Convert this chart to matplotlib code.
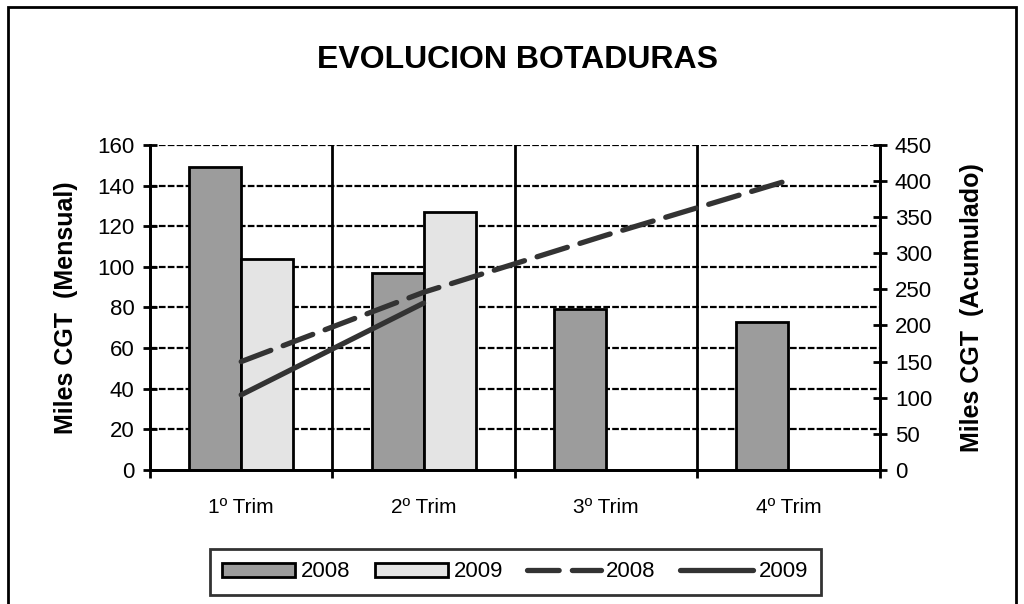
import numpy as np
import matplotlib.pyplot as plt
from matplotlib.patches import Rectangle

plt.rcParams['font.family'] = ['Liberation Sans', 'DejaVu Sans']

# data
categories = ['1º Trim', '2º Trim', '3º Trim', '4º Trim']
bars_2008 = [149, 97, 79, 73]
bars_2009 = [104, 127]
acum_2008 = [150, 246, 325, 401]
acum_2009 = [104, 231]

fig = plt.figure(figsize=(10.24, 6.04), dpi=100)
ax = fig.add_axes([0.1465, 0.222, 0.7125, 0.538])
ax2 = ax.twinx()

x = np.arange(len(categories))
w = 0.285
ax.bar(x - w / 2, bars_2008, w, color='#9c9c9c', edgecolor='black', linewidth=2, label='2008', zorder=3)
ax.bar(x[:len(bars_2009)] + w / 2, bars_2009, w, color='#e4e4e4', edgecolor='black', linewidth=2, label='2009', zorder=3)

ax.set_xlim(-0.5, len(categories) - 0.5)
ax.set_ylim(0, 160)
ax.set_yticks(np.arange(0, 161, 20))
ax.set_xticks(x)
ax.set_xticklabels(categories, fontsize=15)
ax.tick_params(axis='x', length=0, pad=20)
ax.set_xticks(np.arange(-0.5, len(categories)), minor=True)
ax.tick_params(axis='x', which='minor', length=6, width=2, direction='out')
ax.tick_params(axis='y', labelsize=16, length=10, width=2, direction='inout', pad=6)

for yv in np.arange(20, 161, 20):
    ax.axhline(yv, color='black', lw=1.6, dashes=(3, 1), zorder=1)
for xv in np.arange(0.5, len(categories) - 0.5):
    ax.axvline(xv, color='black', lw=2, zorder=1)

ax2.set_ylim(0, 450)
ax2.set_yticks(np.arange(0, 451, 50))
ax2.tick_params(axis='y', labelsize=16, length=10, width=2, direction='inout', pad=6)
l1, = ax2.plot(x[:len(acum_2008)], acum_2008, color='#333333', lw=3.8, dashes=(6, 2.5),
               dash_capstyle='round', label='2008', zorder=4)
l2, = ax2.plot(x[:len(acum_2009)], acum_2009, color='#333333', lw=3.8,
               solid_capstyle='round', label='2009', zorder=4)

for a in (ax, ax2):
    for s in a.spines.values():
        s.set_linewidth(2)
ax.spines['top'].set_visible(False)
ax2.spines['top'].set_visible(False)

ax.set_ylabel('Miles CGT  (Mensual)', fontsize=18, fontweight='bold', labelpad=14)
ax2.set_ylabel('Miles CGT  (Acumulado)', fontsize=18, fontweight='bold', rotation=90, labelpad=20)

fig.text(0.505, 0.9, 'EVOLUCION BOTADURAS', ha='center', va='center', fontsize=23, fontweight='bold')

h1, lb1 = ax.get_legend_handles_labels()
leg = fig.legend(h1 + [l1, l2], lb1 + ['2008', '2009'], ncol=4, loc='center',
                 bbox_to_anchor=(0.503, 0.053), fontsize=16, frameon=True, fancybox=False,
                 handlelength=3.3, handleheight=0.6, handletextpad=0.25, columnspacing=1.1,
                 borderpad=0.55, borderaxespad=0)
leg.get_frame().set_edgecolor('black')
leg.get_frame().set_linewidth(2)

fig.patches.append(Rectangle((0.008, -0.02), 0.984, 1.008, transform=fig.transFigure,
                             fill=False, edgecolor='black', lw=2))

fig.savefig('out.png', dpi=100)
